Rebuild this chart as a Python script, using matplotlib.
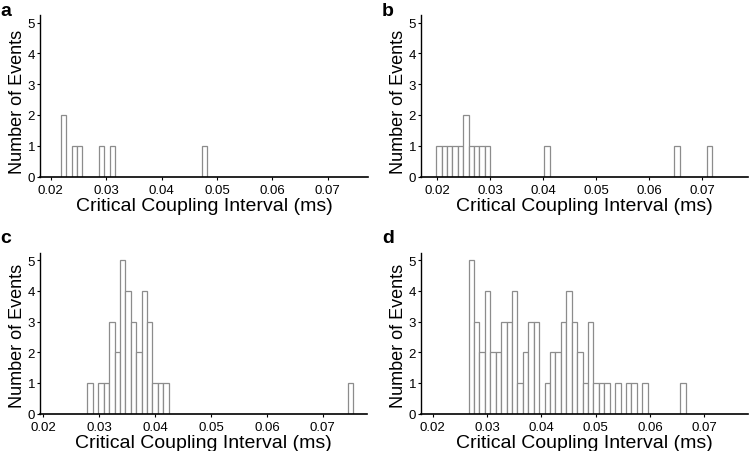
import numpy as np
import matplotlib.pyplot as plt

plt.rcParams['font.family'] = ['Liberation Sans', 'DejaVu Sans']

# histogram data: first bin left edge, bin width, counts per bin
a_start, a_width = 0.02181, 0.000978
a_counts = [2, 0, 1, 1, 0, 0, 0, 1, 0, 1, 0, 0, 0, 0, 0, 0, 0, 0, 0, 0,
            0, 0, 0, 0, 0, 0, 1]

b_start, b_width = 0.0198, 0.00102
b_counts = [1, 1, 1, 1, 1, 2, 1, 1, 1, 1, 0, 0, 0, 0, 0, 0, 0, 0, 0, 0,
            1, 0, 0, 0, 0, 0, 0, 0, 0, 0, 0, 0, 0, 0, 0, 0, 0, 0, 0, 0,
            0, 0, 0, 0, 1, 0, 0, 0, 0, 0, 1]

c_start, c_width = 0.02788, 0.00097
c_counts = [1, 0, 1, 1, 3, 2, 5, 4, 3, 2, 4, 3, 1, 1, 1, 0, 0, 0, 0, 0,
            0, 0, 0, 0, 0, 0, 0, 0, 0, 0, 0, 0, 0, 0, 0, 0, 0, 0, 0, 0,
            0, 0, 0, 0, 0, 0, 0, 0, 1]

d_start, d_width = 0.02662, 0.000998
d_counts = [5, 3, 2, 4, 2, 2, 3, 3, 4, 1, 2, 3, 3, 0, 1, 2, 2, 3, 4, 3,
            2, 1, 3, 1, 1, 1, 0, 1, 0, 1, 1, 0, 1, 0, 0, 0, 0, 0, 0, 1]

panels = [
    ('a', a_start, a_width, a_counts, (0.01806, 0.07725)),
    ('b', b_start, b_width, b_counts, (0.01693, 0.07861)),
    ('c', c_start, c_width, c_counts, (0.0194, 0.0779)),
    ('d', d_start, d_width, d_counts, (0.01787, 0.07801)),
]

W, H = 749, 452
# axes boxes in pixels: left, top, right, bottom
boxes = [(40, 16, 368, 177.5), (421, 16, 748, 177.5),
         (40, 253.5, 367, 414.5), (421, 253.5, 748, 414.5)]
# panel letter positions (pixel centres)
letter_pos = [(6, 11), (388, 11), (6, 239), (388, 239)]
ylabel_y = [0.465, 0.465, 0.49, 0.49]

fig = plt.figure(figsize=(W / 100, H / 100), dpi=100)

for i, ((name, start, width, counts, xlim), (l, t, r, b)) in enumerate(zip(panels, boxes)):
    ax = fig.add_axes([l / W, 1 - b / H, (r - l) / W, (b - t) / H])
    counts = np.array(counts)
    lefts = start + width * np.arange(len(counts))
    keep = counts > 0
    ax.bar(lefts[keep], counts[keep], width=width, align='edge',
           color='white', edgecolor='#8c8c8c', linewidth=0.9)
    ax.set_xlim(*xlim)
    ax.set_ylim(0, 5.25)
    ax.set_xticks([0.02, 0.03, 0.04, 0.05, 0.06, 0.07])
    ax.set_xticklabels(['0.02', '0.03', '0.04', '0.05', '0.06', '0.07'])
    ax.set_yticks(range(6))
    ax.spines['top'].set_visible(False)
    ax.spines['right'].set_visible(False)
    ax.spines['left'].set_linewidth(1.0)
    ax.spines['bottom'].set_linewidth(1.2)
    ax.tick_params(axis='both', labelsize=9.5, length=2.5, width=0.8)
    ax.tick_params(axis='x', pad=3)
    ax.tick_params(axis='y', pad=1)
    ax.set_xlabel('Critical Coupling Interval (ms)', fontsize=14, labelpad=0.5)
    ax.set_ylabel('Number of Events', fontsize=13)
    ax.yaxis.set_label_coords(-0.043, ylabel_y[i])
    lx, ly = letter_pos[i]
    fig.text(lx / W, 1 - ly / H, name, fontsize=14, fontweight='bold',
             va='center', ha='center')

fig.savefig('out.png', dpi=100)
